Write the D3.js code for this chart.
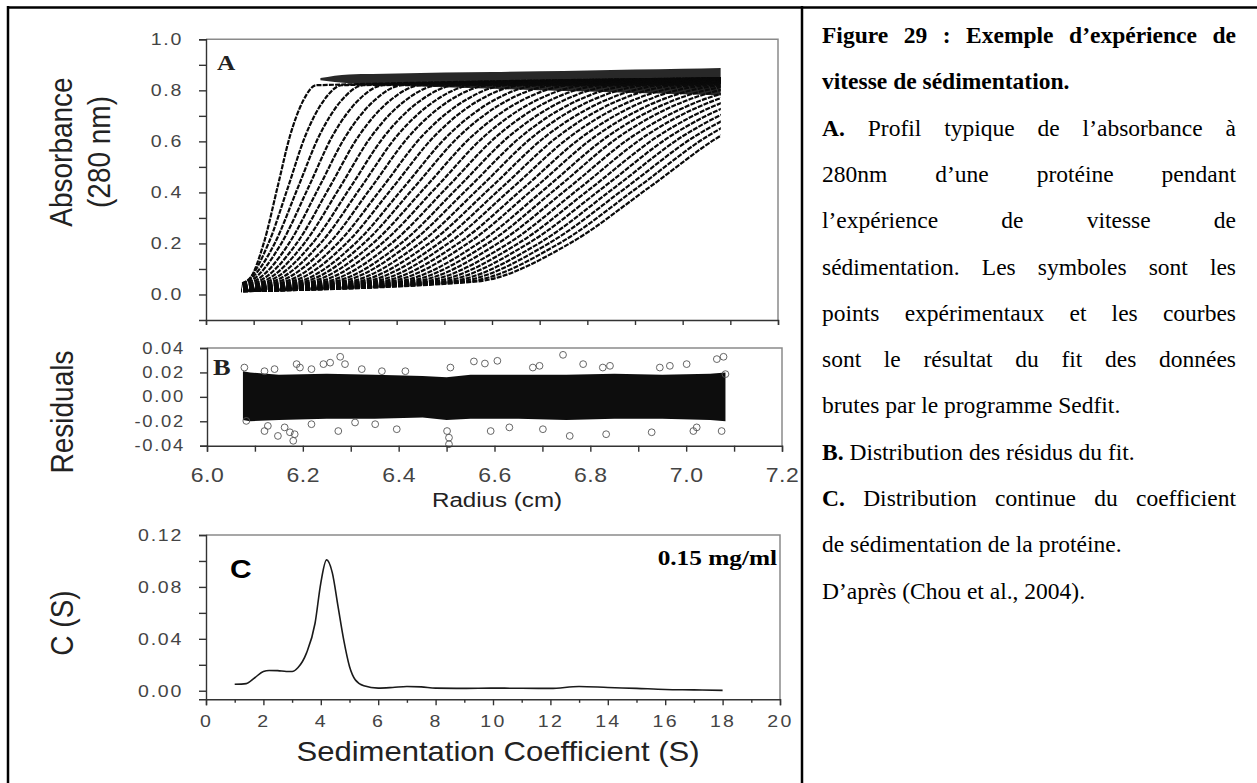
<!DOCTYPE html>
<html lang="fr">
<head>
<meta charset="UTF-8">
<title>Figure 29 : vitesse de sédimentation</title>
<script src="https://cdn.jsdelivr.net/npm/d3@7"></script>
<style>
  body { margin: 0; background: #fff; }
  svg { display: block; }
</style>
</head>
<body>
<svg id="fig" width="1257" height="783"></svg>
<script>
// ---------- Panel A : radius (cm) where each scan crosses a given absorbance
const baseA = 0.01;        // absorbance ahead of the boundary
const plateauA = 0.855;    // plateau absorbance
const rA05 = [6.086, 6.083, 6.085, 6.091, 6.099, 6.108, 6.118, 6.128, 6.139, 6.151, 6.165, 6.178, 6.192, 6.205, 6.219, 6.234, 6.250, 6.266, 6.281, 6.298, 6.314, 6.330, 6.347, 6.364, 6.381, 6.399, 6.416, 6.434, 6.452, 6.471, 6.489, 6.508, 6.526, 6.546, 6.564];
const rA20 = [6.121, 6.131, 6.144, 6.158, 6.174, 6.190, 6.206, 6.223, 6.240, 6.258, 6.276, 6.294, 6.313, 6.331, 6.350, 6.369, 6.389, 6.409, 6.428, 6.448, 6.468, 6.488, 6.508, 6.529, 6.549, 6.571, 6.591, 6.612, 6.634, 6.655, 6.676, 6.698, 6.719, 6.741, 6.763];
const rA42 = [6.150, 6.172, 6.193, 6.215, 6.237, 6.259, 6.281, 6.303, 6.325, 6.347, 6.370, 6.392, 6.415, 6.437, 6.460, 6.483, 6.506, 6.529, 6.552, 6.575, 6.598, 6.621, 6.644, 6.668, 6.691, 6.715, 6.738, 6.762, 6.786, 6.810, 6.834, 6.858, 6.882, 6.906, 6.930];
const rA62 = [6.176, 6.208, 6.237, 6.265, 6.293, 6.320, 6.347, 6.374, 6.400, 6.426, 6.453, 6.479, 6.506, 6.531, 6.558, 6.584, 6.610, 6.636, 6.662, 6.687, 6.713, 6.739, 6.765, 6.791, 6.817, 6.843, 6.868, 6.895, 6.921, 6.948, 6.974, 7.000, 7.026, 7.052, 7.078];
const rA76 = [6.204, 6.247, 6.284, 6.319, 6.353, 6.386, 6.418, 6.450, 6.481, 6.511, 6.543, 6.572, 6.603, 6.632, 6.662, 6.692, 6.721, 6.750, 6.779, 6.808, 6.837, 6.865, 6.894, 6.923, 6.952, 6.980, 7.008, 7.038, 7.066, 7.095, 7.124, 7.152, 7.181, 7.209, 7.237];
const rA82 = [6.231, 6.285, 6.330, 6.372, 6.412, 6.451, 6.488, 6.524, 6.560, 6.595, 6.630, 6.664, 6.698, 6.731, 6.765, 6.798, 6.831, 6.862, 6.895, 6.926, 6.958, 6.989, 7.021, 7.053, 7.084, 7.115, 7.145, 7.178, 7.209, 7.240, 7.271, 7.302, 7.333, 7.362, 7.393];
const rangeA = [6.075, 7.08];   // radii covered by the scans

// dense cloud of points along the plateau (envelope)
const topBandR  = [6.24, 6.30, 6.40, 6.50, 6.60, 6.70, 6.80, 6.90, 7.00, 7.08];
const topBandHi = [0.848, 0.862, 0.866, 0.870, 0.872, 0.875, 0.878, 0.882, 0.885, 0.888];
const topBandLo = [0.840, 0.828, 0.818, 0.812, 0.806, 0.800, 0.795, 0.790, 0.785, 0.780];

// ---------- Panel B : residual band envelope and stray points
const bandR  = [6.075, 6.09, 6.15, 6.25, 6.35, 6.45, 6.50, 6.55, 6.65, 6.75, 6.85, 6.95, 7.05, 7.082];
const bandHi = [0.021, 0.020, 0.018, 0.019, 0.018, 0.017, 0.016, 0.018, 0.018, 0.018, 0.019, 0.018, 0.019, 0.020];
const bandLo = [-0.019, -0.020, -0.019, -0.018, -0.018, -0.017, -0.019, -0.018, -0.018, -0.019, -0.018, -0.018, -0.019, -0.020];
const outR = [6.078, 6.120, 6.141, 6.187, 6.194, 6.218, 6.243, 6.257, 6.278, 6.288, 6.323, 6.365, 6.414,
              6.082, 6.120, 6.127, 6.148, 6.162, 6.173, 6.180, 6.183, 6.218, 6.274, 6.309, 6.351, 6.396,
              6.508, 6.557, 6.580, 6.606, 6.680, 6.694, 6.743, 6.785, 6.826, 6.841, 6.945, 6.966, 7.001, 7.064, 7.078, 7.082,
              6.501, 6.505, 6.505, 6.592, 6.631, 6.701, 6.757, 6.833, 6.928, 7.015, 7.074, 7.022];
const outV = [0.024, 0.021, 0.0227, 0.0268, 0.024, 0.0227, 0.0268, 0.028, 0.0328, 0.0268, 0.0227, 0.021, 0.021,
              -0.0197, -0.028, -0.0238, -0.032, -0.025, -0.029, -0.036, -0.0306, -0.0224, -0.028, -0.021, -0.0224, -0.0265,
              0.024, 0.029, 0.0273, 0.0295, 0.024, 0.0254, 0.0344, 0.0268, 0.024, 0.0254, 0.024, 0.0254, 0.0268, 0.0309, 0.0328, 0.0186,
              -0.028, -0.0334, -0.0388, -0.028, -0.025, -0.0265, -0.032, -0.0306, -0.029, -0.028, -0.028, -0.025];

// ---------- Panel C : continuous c(s) distribution
const sC = [1.0, 1.4, 1.7, 2.0, 2.2, 2.5, 2.8, 3.0, 3.2, 3.5, 3.8, 4.0, 4.2, 4.4, 4.6, 4.8, 5.0, 5.2, 5.5, 6.0, 6.5, 7.0, 7.5, 8.0, 9.0, 10.0, 11.0, 12.0, 13.0, 14.0, 15.0, 16.0, 17.0, 18.0];
const cC = [0.005, 0.0055, 0.010, 0.0149, 0.0156, 0.0155, 0.0148, 0.0148, 0.0177, 0.029, 0.052, 0.083, 0.1008, 0.091, 0.065, 0.039, 0.0187, 0.0085, 0.0038, 0.002, 0.0025, 0.0033, 0.003, 0.002, 0.0018, 0.002, 0.0019, 0.0018, 0.0033, 0.0025, 0.0018, 0.001, 0.0007, 0.0003];

// ---------- caption
const captionLines = [
  "Figure 29 : Exemple d’expérience de",
  "vitesse de sédimentation.",
  "A. Profil typique de l’absorbance à",
  "280nm d’une protéine pendant",
  "l’expérience de vitesse de",
  "sédimentation. Les symboles sont les",
  "points expérimentaux et les courbes",
  "sont le résultat du fit des données",
  "brutes par le programme Sedfit.",
  "B. Distribution des résidus du fit.",
  "C. Distribution continue du coefficient",
  "de sédimentation de la protéine.",
  "D’après (Chou et al., 2004)."
];
const captionBold = [99, 99, 1, 0, 0, 0, 0, 0, 0, 1, 1, 0, 0];
const captionJustify = [true, false, true, true, true, true, true, true, false, false, true, false, false];

// ---------------------------------------------------------------
const svg = d3.select("#fig");
const SX = 1.15;                       // the original figure is stretched horizontally
const sans = "'Liberation Sans', Arial, Helvetica, sans-serif";
const serif = "'Liberation Serif', 'Times New Roman', serif";

// frame of the table
svg.append("line").attr("x1", 7).attr("x2", 1257).attr("y1", 7.5).attr("y2", 7.5).attr("stroke", "#000").attr("stroke-width", 2.5);
svg.append("line").attr("x1", 8).attr("x2", 8).attr("y1", 6).attr("y2", 783).attr("stroke", "#000").attr("stroke-width", 2.5);
svg.append("line").attr("x1", 802).attr("x2", 802).attr("y1", 6).attr("y2", 783).attr("stroke", "#000").attr("stroke-width", 2.5);

function styleAxis(g) {
  g.attr("font-family", null).attr("font-size", null);
  g.select(".domain").attr("stroke", "#333").attr("stroke-width", 1.4);
  g.selectAll(".tick line").attr("stroke", "#333").attr("stroke-width", 1.4);
  g.selectAll(".tick text").attr("fill", "#444").style("font-family", sans);
}

function boxEdges(x0, x1, y0, y1) {
  svg.append("path")
    .attr("d", `M${x0},${y0}H${x1}V${y1}`)
    .attr("fill", "none").attr("stroke", "#8a8a8a").attr("stroke-width", 1.5);
}

function stretchedText(x, y, txt, size, opts = {}) {
  return svg.append("text")
    .attr("transform", `translate(${x},${y}) scale(${SX},1)` + (opts.rotate ? " rotate(-90)" : ""))
    .attr("text-anchor", opts.anchor || "middle")
    .style("font-family", opts.family || sans)
    .style("font-weight", opts.weight || "normal")
    .style("font-size", size + "px")
    .attr("fill", opts.fill || "#222")
    .text(txt);
}

// ================= Panel A =================
const xA = d3.scaleLinear().domain([6.0, 7.2]).range([206, 778]);
const yA = d3.scaleLinear().domain([-0.1, 1.0]).range([320, 39.3]);

boxEdges(xA.range()[0], xA.range()[1], yA.range()[1], yA.range()[0]);

svg.append("clipPath").attr("id", "clipA").append("rect")
  .attr("x", xA(rangeA[0])).attr("y", yA(1.0))
  .attr("width", xA(rangeA[1]) - xA(rangeA[0])).attr("height", yA(-0.1) - yA(1.0));

const gA = svg.append("g").attr("clip-path", "url(#clipA)");

const topBand = topBandR.map((r, i) => ({ r, hi: topBandHi[i], lo: topBandLo[i] }));
gA.append("path")
  .datum(topBand)
  .attr("d", d3.area().x(d => xA(d.r)).y0(d => yA(d.lo)).y1(d => yA(d.hi)).curve(d3.curveMonotoneX))
  .attr("fill", "#0a0a0a").attr("opacity", 0.88);

const scans = rA42.map((_, i) => [
  [6.0, baseA], [rA05[i], 0.05], [rA20[i], 0.20], [rA42[i], 0.42],
  [rA62[i], 0.62], [rA76[i], 0.76], [rA82[i], 0.82], [7.6, plateauA]
]);

const scanLine = d3.line().x(d => xA(d[0])).y(d => yA(d[1])).curve(d3.curveMonotoneX);
gA.selectAll("path.scan")
  .data(scans)
  .join("path")
  .attr("class", "scan")
  .attr("d", scanLine)
  .attr("fill", "none")
  .attr("stroke", "#0a0a0a")
  .attr("stroke-width", 2.2)
  .attr("stroke-dasharray", "5,1.2");

const axAy = svg.append("g")
  .attr("transform", `translate(${xA.range()[0]},0)`)
  .call(d3.axisLeft(yA)
    .tickValues(d3.range(0, 11).map(d => d / 10))
    .tickSize(7)
    .tickFormat(d => Math.round(d * 10) % 2 === 0 ? d3.format(".1f")(d) : ""));
styleAxis(axAy);
axAy.selectAll(".tick text").attr("x", -23 / SX).attr("transform", `scale(${SX},1)`)
  .style("font-size", "17px").style("letter-spacing", "1.5px");

const axAx = svg.append("g")
  .attr("transform", `translate(0,${yA.range()[0]})`)
  .call(d3.axisBottom(xA).tickValues(d3.range(60, 73).map(d => d / 10)).tickSize(5).tickFormat(""));
styleAxis(axAx);

stretchedText(217, 70, "A", 22, { anchor: "start", family: serif, weight: "bold" });
stretchedText(72, 152, "Absorbance", 28, { rotate: true });
stretchedText(110, 152, "(280 nm)", 28, { rotate: true });

// ================= Panel B =================
const xB = d3.scaleLinear().domain([6.0, 7.2]).range([207, 782]);
const yB = d3.scaleLinear().domain([-0.04, 0.04]).range([445.7, 348]);

boxEdges(xB.range()[0], xB.range()[1], yB.range()[1], yB.range()[0]);

const band = bandR.map((r, i) => ({ r, hi: bandHi[i], lo: bandLo[i] }));
svg.append("path")
  .datum(band)
  .attr("d", d3.area().x(d => xB(d.r)).y0(d => yB(d.lo)).y1(d => yB(d.hi)))
  .attr("fill", "#0d0d0d");

svg.append("g").selectAll("circle")
  .data(outR.map((r, i) => ({ r, v: outV[i] })))
  .join("circle")
  .attr("cx", d => xB(d.r))
  .attr("cy", d => yB(d.v))
  .attr("r", 3.4)
  .attr("fill", "none")
  .attr("stroke", "#555")
  .attr("stroke-width", 0.9);

const axBy = svg.append("g")
  .attr("transform", `translate(${xB.range()[0]},0)`)
  .call(d3.axisLeft(yB).tickValues([-0.04, -0.02, 0, 0.02, 0.04]).tickSize(7).tickFormat(d3.format(".2f")));
styleAxis(axBy);
axBy.selectAll(".tick text").text(d => d3.format(".2f")(d).replace("−", "-"))
  .attr("x", -22 / SX).attr("transform", `scale(${SX},1)`)
  .style("font-size", "16px").style("letter-spacing", "1.5px");

const axBx = svg.append("g")
  .attr("transform", `translate(0,${yB.range()[0]})`)
  .call(d3.axisBottom(xB)
    .tickValues(d3.range(60, 73).map(d => d / 10))
    .tickSize(6)
    .tickFormat(d => Math.round(d * 10) % 2 === 0 ? d3.format(".1f")(d) : ""));
styleAxis(axBx);
axBx.selectAll(".tick text").attr("y", 36).attr("dy", 0).attr("transform", `scale(${SX},1)`)
  .style("font-size", "20px").style("letter-spacing", "0.5px");

stretchedText(213, 375, "B", 23, { anchor: "start", family: serif, weight: "bold" });
stretchedText(73, 412, "Residuals", 28, { rotate: true });
stretchedText(497, 507, "Radius (cm)", 21);

// ================= Panel C =================
const xC = d3.scaleLinear().domain([0, 20]).range([206, 780]);
const yC = d3.scaleLinear().domain([-0.0066, 0.12]).range([699.3, 535]);

boxEdges(xC.range()[0], xC.range()[1], yC.range()[1], yC.range()[0]);

svg.append("path")
  .datum(sC.map((s, i) => [s, cC[i]]))
  .attr("d", d3.line().x(d => xC(d[0])).y(d => yC(d[1])).curve(d3.curveMonotoneX))
  .attr("fill", "none")
  .attr("stroke", "#1a1a1a")
  .attr("stroke-width", 1.6);

const axCy = svg.append("g")
  .attr("transform", `translate(${xC.range()[0]},0)`)
  .call(d3.axisLeft(yC)
    .tickValues(d3.range(0, 7).map(d => d * 0.02))
    .tickSize(7)
    .tickFormat(d => Math.round(d * 100) % 4 === 0 ? d3.format(".2f")(d) : ""));
styleAxis(axCy);
axCy.selectAll(".tick text").attr("x", -23 / SX).attr("transform", `scale(${SX},1)`)
  .style("font-size", "17px").style("letter-spacing", "1.5px");

const axCx = svg.append("g")
  .attr("transform", `translate(0,${yC.range()[0]})`)
  .call(d3.axisBottom(xC)
    .tickValues(d3.range(0, 21))
    .tickSize(6)
    .tickFormat(d => d % 2 === 0 ? d : ""));
styleAxis(axCx);
axCx.selectAll(".tick line").attr("y2", d => d % 2 === 0 ? 6 : 3.5);
axCx.selectAll(".tick text").attr("y", 27.5).attr("dy", 0).attr("transform", `scale(${SX},1)`)
  .style("font-size", "17px").style("letter-spacing", "2px");

stretchedText(230, 578, "C", 26, { anchor: "start", weight: "bold", fill: "#000" });
stretchedText(777, 565, "0.15 mg/ml", 22, { anchor: "end", family: serif, weight: "bold", fill: "#000" });
stretchedText(73, 623, "C (S)", 28, { rotate: true });
stretchedText(498, 761, "Sedimentation Coefficient (S)", 27);

// ================= Caption =================
const capX0 = 822, capX1 = 1236, capY0 = 43, capDy = 46.3, capSize = 23.5;
const cap = svg.append("g")
  .style("font-family", serif)
  .style("font-size", capSize + "px")
  .attr("fill", "#000");

captionLines.forEach((line, i) => {
  const words = line.split(" ");
  const y = capY0 + i * capDy;
  const nodes = words.map((w, j) => cap.append("text")
    .attr("y", y)
    .style("font-weight", j < captionBold[i] ? "bold" : "normal")
    .text(w));
  const widths = nodes.map(n => n.node().getComputedTextLength());
  const total = d3.sum(widths);
  const gap = captionJustify[i] && words.length > 1
    ? (capX1 - capX0 - total) / (words.length - 1)
    : capSize * 0.25;
  let x = capX0;
  nodes.forEach((n, j) => {
    n.attr("x", x);
    x += widths[j] + gap;
  });
});
</script>
</body>
</html>
